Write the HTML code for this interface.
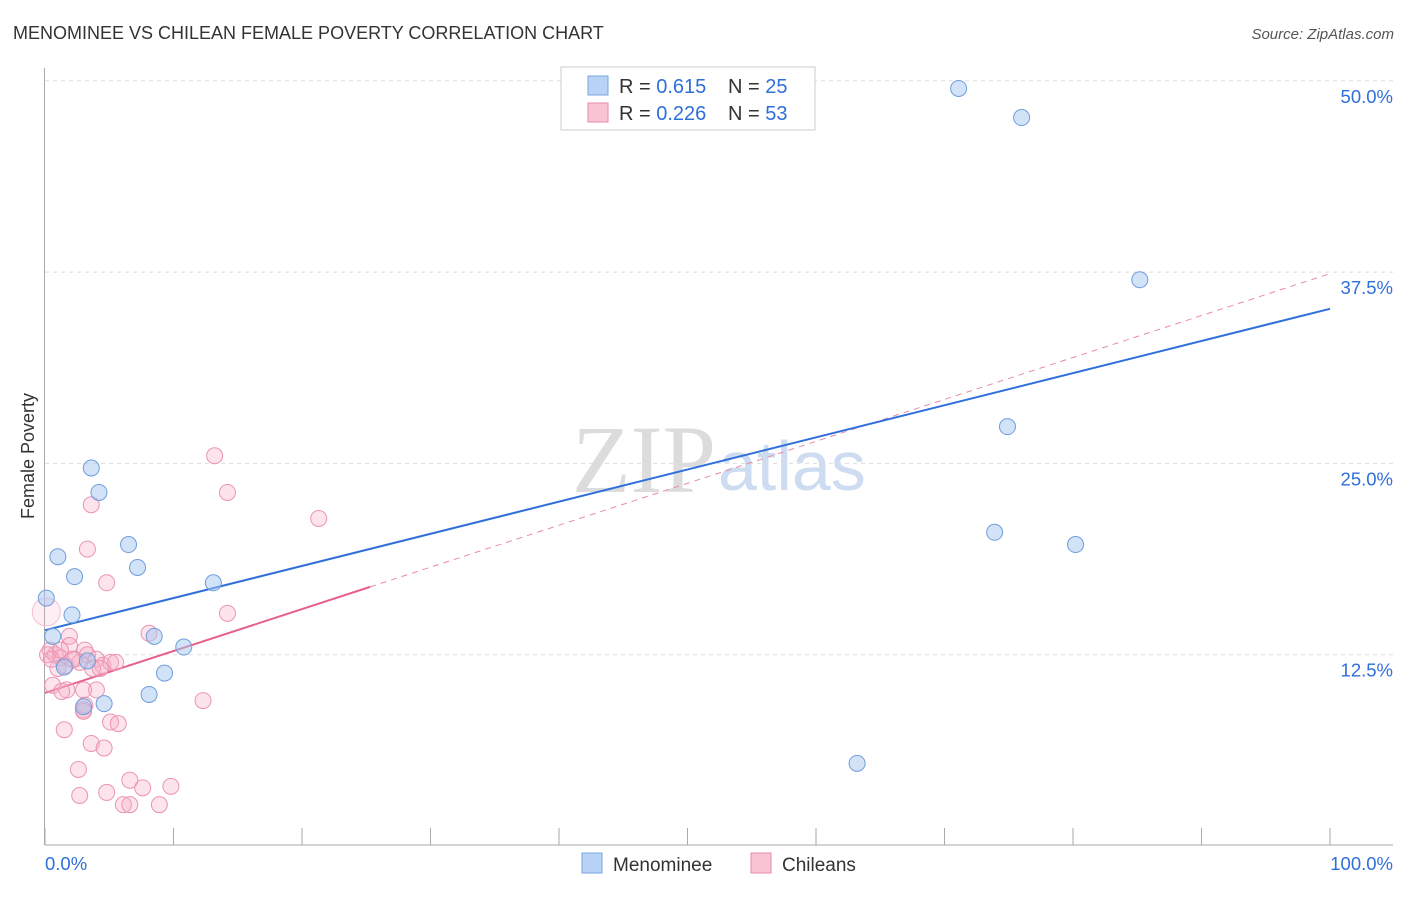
<!DOCTYPE html>
<html><head><meta charset="utf-8"><style>
body{margin:0;background:#fff;font-family:"Liberation Sans",sans-serif}
#wrap{position:relative;width:1406px;height:892px}
</style></head><body>
<div id="wrap">
<svg id="svg" width="1406" height="892" xmlns="http://www.w3.org/2000/svg">
<text x="13" y="39" font-size="18" fill="#333">MENOMINEE VS CHILEAN FEMALE POVERTY CORRELATION CHART</text>
<text x="1394" y="39" font-size="15" fill="#555" font-style="italic" text-anchor="end">Source: ZipAtlas.com</text>
<text x="34" y="456" font-size="18" fill="#333" transform="rotate(-90 34 456)" text-anchor="middle">Female Poverty</text>
<text x="716" y="492" font-size="96" fill="#dcdcdc" text-anchor="end" font-family="Liberation Serif,serif">ZIP</text>
<text x="718" y="490" font-size="70" fill="#cddcf0">atlas</text>
<g id="grid"></g><g id="axes"></g><g id="lines"></g><g id="pts"></g>
<g>
<rect x="561" y="67" width="254" height="63" fill="#fff" stroke="#ccc"/>
<rect x="588" y="76" width="20" height="19" fill="#b8d3f5" stroke="#7aa7e0"/>
<rect x="588" y="103" width="20" height="19" fill="#f9c4d4" stroke="#e88aaa"/>
<text x="619" y="93" font-size="20" fill="#333">R = <tspan fill="#2f6fd8">0.615</tspan><tspan x="728">N = </tspan><tspan fill="#2f6fd8">25</tspan></text>
<text x="619" y="120" font-size="20" fill="#333">R = <tspan fill="#2f6fd8">0.226</tspan><tspan x="728">N = </tspan><tspan fill="#2f6fd8">53</tspan></text>
</g>
<g>
<rect x="582" y="853" width="20" height="20" fill="#b8d3f5" stroke="#7aa7e0"/>
<text x="613" y="871" font-size="19" fill="#333">Menominee</text>
<rect x="751" y="853" width="20" height="20" fill="#f9c4d4" stroke="#e88aaa"/>
<text x="782" y="871" font-size="19" fill="#333">Chileans</text>
</g>
</svg></div>
<script>
const blueX=[71.1,76.0,85.2,74.9,73.9,80.2,63.2,3.6,4.2,1.0,2.3,6.5,7.2,13.1,0.1,2.1,0.6,8.5,10.8,3.3,1.5,9.3,8.1,4.6,3.0];
const blueY=[49.5,47.6,37.0,27.4,20.5,19.7,5.4,24.7,23.1,18.9,17.6,19.7,18.2,17.2,16.2,15.1,13.7,13.7,13.0,12.1,11.7,11.3,9.9,9.3,9.1];
const pinkX=[13.2,14.2,3.6,21.3,3.3,4.8,14.2,8.1,1.9,0.4,0.8,1.2,1.9,3.1,3.3,2.3,1.6,4.0,4.5,5.1,5.5,2.7,3.7,1.0,0.2,0.6,1.7,4.0,1.3,12.3,3.0,3.0,5.1,5.7,1.5,3.6,4.6,2.6,6.6,7.6,9.8,2.7,4.8,6.1,6.6,8.9,0.1,0.5,2.1,1.2,4.3,3.0,3.1];
const pinkY=[25.5,23.1,22.3,21.4,19.4,17.2,15.2,13.9,13.7,12.8,12.5,12.3,13.1,12.8,12.5,12.2,11.8,12.2,11.8,12.0,12.0,12.0,11.6,11.6,12.5,10.5,10.2,10.2,10.1,9.5,8.9,8.8,8.1,8.0,7.6,6.7,6.4,5.0,4.3,3.8,3.9,3.3,3.5,2.7,2.7,2.7,15.3,12.2,12.2,12.8,11.6,10.2,9.2];
const blueTrend=[14.1,35.1];
const pinkTrend=[10.0,37.4];
const pinkSolidEnd=25.3;
const yTicks=[12.5,25.0,37.5,50.0];
const yTickLabels=["12.5%","25.0%","37.5%","50.0%"];
const xTickCount=10;

const NS="http://www.w3.org/2000/svg";
const X=v=>45+v/100*1285, Y=v=>846-v/12.5*191.3;
function mk(tag,attrs,parent){const e=document.createElementNS(NS,tag);for(const k in attrs)e.setAttribute(k,attrs[k]);document.getElementById(parent).appendChild(e);return e;}
yTicks.forEach((t,i)=>{
 const g=mk('line',{x1:45,x2:1393,y1:Y(t),y2:Y(t),stroke:'#ddd','stroke-dasharray':'4,4'},'grid');
 
 
 const tx=mk('text',{x:1393,y:Y(t)+22,'font-size':18.5,fill:'#2f6fd8','text-anchor':'end'},'grid');
 tx.textContent=yTickLabels[i];
 
 
});
const xa=mk('line',{x1:45,x2:1393,y1:845,y2:845,stroke:'#aaa'},'axes');


const ya=mk('line',{x1:44.5,x2:44.5,y1:68,y2:845,stroke:'#aaa'},'axes');


for(let i=0;i<=xTickCount;i++){
 const t=mk('line',{x1:X(i*100/xTickCount),x2:X(i*100/xTickCount),y1:828,y2:845,stroke:'#aaa'},'axes');
 
 
}
const l0=mk('text',{x:45,y:870,'font-size':18.5,fill:'#2f6fd8'},'axes');l0.textContent='0.0%';


const l1=mk('text',{x:1393,y:870,'font-size':18.5,fill:'#2f6fd8','text-anchor':'end'},'axes');l1.textContent='100.0%';



const pv=x=>pinkTrend[0]+(pinkTrend[1]-pinkTrend[0])*x/100;
const pd=mk('line',{x1:X(pinkSolidEnd),y1:Y(pv(pinkSolidEnd)),x2:X(100),y2:Y(pinkTrend[1]),stroke:'#e88aaa','stroke-dasharray':'6,5','stroke-width':1},'lines');


const ps=mk('line',{x1:X(0),y1:Y(pinkTrend[0]),x2:X(pinkSolidEnd),y2:Y(pv(pinkSolidEnd)),stroke:'#e8608a','stroke-width':2},'lines');


const bl=mk('line',{x1:X(0),y1:Y(blueTrend[0]),x2:X(100),y2:Y(blueTrend[1]),stroke:'#2f6fd8','stroke-width':2},'lines');



pinkX.forEach((x,i)=>{
 const big=i==46;
 const c=mk('circle',{cx:X(x),cy:Y(pinkY[i]),r:big?14:8,fill:big?'rgba(247,175,200,0.2)':'rgba(247,175,200,0.35)',stroke:big?'#f3c0d2':'#eb94b2','stroke-width':1},'pts');
 
 
});
blueX.forEach((x,i)=>{
 const c=mk('circle',{cx:X(x),cy:Y(blueY[i]),r:8,fill:'rgba(165,198,240,0.5)',stroke:'#6f9ddb','stroke-width':1},'pts');
 
 
});
</script>
</body></html>
